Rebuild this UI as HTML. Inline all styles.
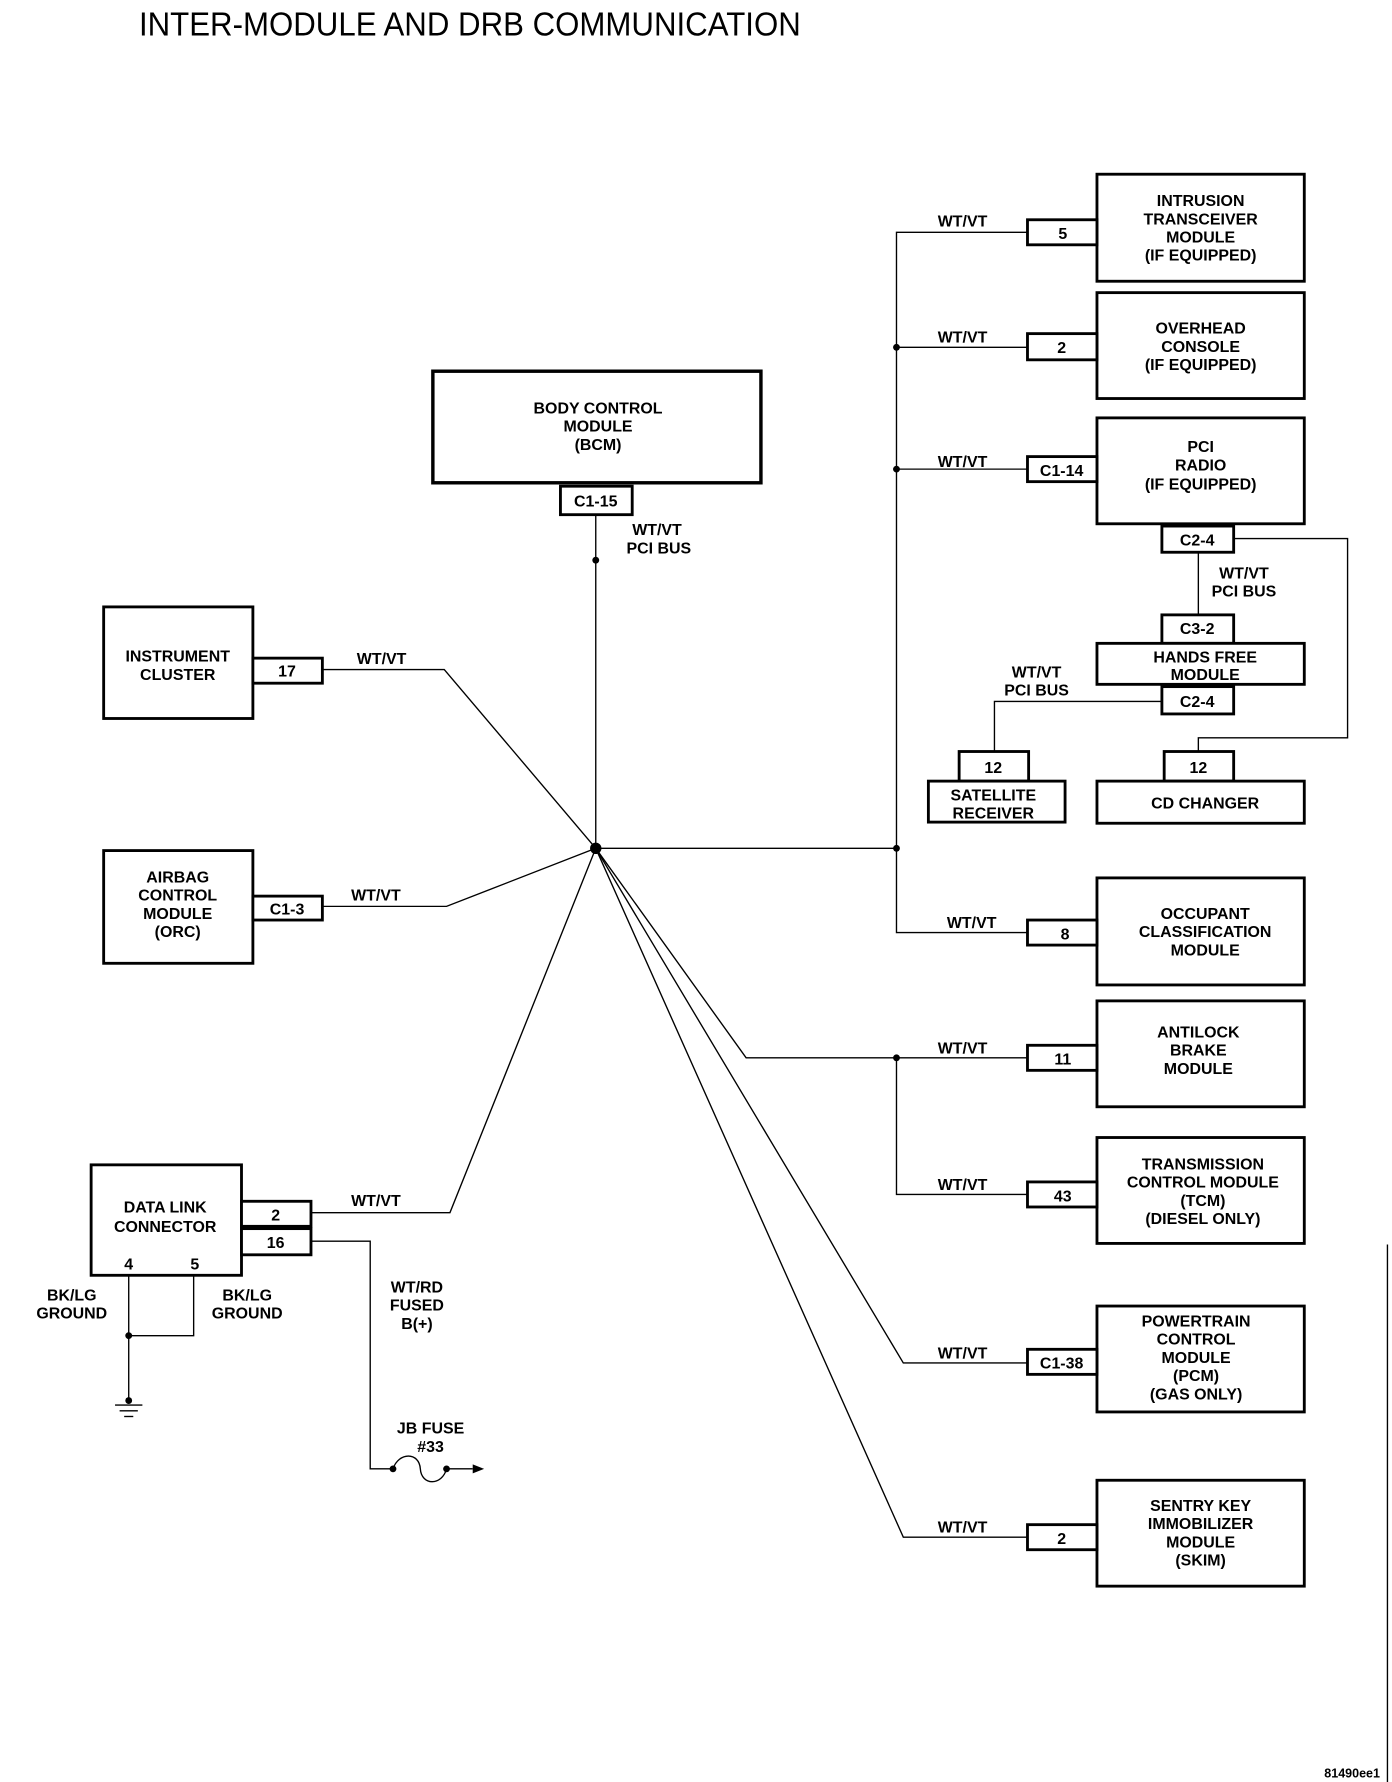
<!DOCTYPE html>
<html><head><meta charset="utf-8"><style>
html,body{margin:0;padding:0;background:#fff;}
svg{display:block;}
text{font-family:"Liberation Sans",sans-serif;font-weight:bold;font-size:14px;fill:#000;text-anchor:middle;}
.l{text-anchor:start;}
</style></head><body>
<svg width="1392" height="1782" viewBox="0 0 1222 1565" preserveAspectRatio="none" xmlns="http://www.w3.org/2000/svg">
<text class="l" x="122" y="31" style="font-weight:normal;font-size:29px" textLength="581" lengthAdjust="spacingAndGlyphs">INTER-MODULE AND DRB COMMUNICATION</text>

<g fill="none" stroke="#000" stroke-width="1.2">
<!-- BCM -->
<line x1="523" y1="452" x2="523" y2="745"/>
<!-- left -->
<polyline points="283,588 390,588 523,745"/>
<polyline points="283,796 392,796 523,745"/>
<polyline points="273,1065 395,1065 523,745"/>
<polyline points="273,1090 325,1090 325,1290 345,1290"/>
<path d="M345,1290 C350,1275 368,1275 369,1290 C370,1305 388,1305 392,1290"/>
<line x1="392" y1="1290" x2="415" y2="1290"/>
<line x1="113" y1="1120" x2="113" y2="1230"/>
<polyline points="170,1120 170,1173 113,1173"/>
<!-- right -->
<line x1="523" y1="745" x2="787" y2="745"/>
<polyline points="902,204 787,204 787,819 902,819"/>
<line x1="787" y1="305" x2="902" y2="305"/>
<line x1="787" y1="412" x2="902" y2="412"/>
<polyline points="523,745 655,929 902,929"/>
<polyline points="787,929 787,1049 902,1049"/>
<polyline points="523,745 793,1197 902,1197"/>
<polyline points="523,745 793,1350 902,1350"/>
<polyline points="1083,473 1183,473 1183,648 1052,648 1052,660"/>
<line x1="1052" y1="485" x2="1052" y2="540"/>
<polyline points="1020,616 873,616 873,660"/>
<line x1="1218" y1="1093" x2="1218" y2="1565"/>
</g>
<polygon points="415,1286 425,1290 415,1294" fill="#000"/>
<g stroke="#000" stroke-width="1.2">
<line x1="101" y1="1234" x2="125" y2="1234"/>
<line x1="105" y1="1239" x2="121" y2="1239"/>
<line x1="109" y1="1244" x2="117" y2="1244"/>
</g>
<g fill="#000">
<circle cx="523" cy="745" r="5"/>
<circle cx="523" cy="492" r="3"/>
<circle cx="787" cy="745" r="3"/>
<circle cx="787" cy="305" r="3"/>
<circle cx="787" cy="412" r="3"/>
<circle cx="787" cy="929" r="3"/>
<circle cx="113" cy="1173" r="3"/>
<circle cx="113" cy="1230" r="3"/>
<circle cx="345" cy="1290" r="3"/>
<circle cx="392" cy="1290" r="3"/>
</g>

<g fill="#fff" stroke="#000" stroke-width="2.5">
<rect x="380" y="326" width="288" height="98" stroke-width="3"/>
<rect x="492" y="427" width="63" height="25"/>
<rect x="91" y="533" width="131" height="98"/>
<rect x="222" y="578" width="61" height="22"/>
<rect x="91" y="747" width="131" height="99"/>
<rect x="222" y="787" width="61" height="21"/>
<rect x="80" y="1023" width="132" height="97"/>
<rect x="212" y="1055" width="61" height="22"/>
<rect x="212" y="1079" width="61" height="23"/>
<rect x="963" y="153" width="182" height="94"/>
<rect x="902" y="193" width="61" height="22"/>
<rect x="963" y="257" width="182" height="93"/>
<rect x="902" y="293" width="61" height="23"/>
<rect x="963" y="367" width="182" height="93"/>
<rect x="902" y="401" width="61" height="22"/>
<rect x="1020" y="462" width="63" height="23"/>
<rect x="1020" y="540" width="63" height="25"/>
<rect x="963" y="565" width="182" height="36"/>
<rect x="1020" y="603" width="63" height="24"/>
<rect x="842" y="660" width="61" height="26"/>
<rect x="815" y="686" width="120" height="36"/>
<rect x="1022" y="660" width="61" height="26"/>
<rect x="963" y="686" width="182" height="37"/>
<rect x="963" y="771" width="182" height="94"/>
<rect x="902" y="808" width="61" height="22"/>
<rect x="963" y="879" width="182" height="93"/>
<rect x="902" y="918" width="61" height="22"/>
<rect x="963" y="999" width="182" height="93"/>
<rect x="902" y="1038" width="61" height="22"/>
<rect x="963" y="1147" width="182" height="93"/>
<rect x="902" y="1185" width="61" height="22"/>
<rect x="963" y="1300" width="182" height="93"/>
<rect x="902" y="1339" width="61" height="22"/>
</g>

<!-- box texts -->
<text x="525" y="363">BODY CONTROL</text><text x="525" y="379">MODULE</text><text x="525" y="395">(BCM)</text>
<text x="523" y="445">C1-15</text>
<text class="l" x="555" y="470">WT/VT</text><text class="l" x="550" y="486">PCI BUS</text>
<text x="156" y="581">INSTRUMENT</text><text x="156" y="597">CLUSTER</text>
<text x="252" y="594">17</text><text x="335" y="583">WT/VT</text>
<text x="156" y="775">AIRBAG</text><text x="156" y="791">CONTROL</text><text x="156" y="807">MODULE</text><text x="156" y="823">(ORC)</text>
<text x="252" y="803">C1-3</text><text x="330" y="791">WT/VT</text>
<text x="145" y="1065">DATA LINK</text><text x="145" y="1082">CONNECTOR</text>
<text x="113" y="1115">4</text><text x="171" y="1115">5</text>
<text x="242" y="1072">2</text><text x="242" y="1096">16</text>
<text x="330" y="1059">WT/VT</text>
<text x="63" y="1142">BK/LG</text><text x="63" y="1158">GROUND</text>
<text x="217" y="1142">BK/LG</text><text x="217" y="1158">GROUND</text>
<text x="366" y="1135">WT/RD</text><text x="366" y="1151">FUSED</text><text x="366" y="1167">B(+)</text>
<text x="378" y="1259">JB FUSE</text><text x="378" y="1275">#33</text>

<text x="1054" y="181">INTRUSION</text><text x="1054" y="197">TRANSCEIVER</text><text x="1054" y="213">MODULE</text><text x="1054" y="229">(IF EQUIPPED)</text>
<text x="933" y="210">5</text><text x="845" y="199">WT/VT</text>
<text x="1054" y="293">OVERHEAD</text><text x="1054" y="309">CONSOLE</text><text x="1054" y="325">(IF EQUIPPED)</text>
<text x="932" y="310">2</text><text x="845" y="301">WT/VT</text>
<text x="1054" y="397">PCI</text><text x="1054" y="413">RADIO</text><text x="1054" y="430">(IF EQUIPPED)</text>
<text x="932" y="418">C1-14</text><text x="845" y="410">WT/VT</text>
<text x="1051" y="479">C2-4</text>
<text x="1092" y="508">WT/VT</text><text x="1092" y="524">PCI BUS</text>
<text x="1051" y="557">C3-2</text>
<text x="1058" y="582">HANDS FREE</text><text x="1058" y="597">MODULE</text>
<text x="1051" y="621">C2-4</text>
<text x="910" y="595">WT/VT</text><text x="910" y="611">PCI BUS</text>
<text x="872" y="679">12</text>
<text x="872" y="703">SATELLITE</text><text x="872" y="719">RECEIVER</text>
<text x="1052" y="679">12</text>
<text x="1058" y="710">CD CHANGER</text>
<text x="1058" y="807">OCCUPANT</text><text x="1058" y="823">CLASSIFICATION</text><text x="1058" y="839">MODULE</text>
<text x="935" y="825">8</text><text x="853" y="815">WT/VT</text>
<text x="1052" y="911">ANTILOCK</text><text x="1052" y="927">BRAKE</text><text x="1052" y="943">MODULE</text>
<text x="933" y="935">11</text><text x="845" y="925">WT/VT</text>
<text x="1056" y="1027">TRANSMISSION</text><text x="1056" y="1043">CONTROL MODULE</text><text x="1056" y="1059">(TCM)</text><text x="1056" y="1075">(DIESEL ONLY)</text>
<text x="933" y="1055">43</text><text x="845" y="1045">WT/VT</text>
<text x="1050" y="1165">POWERTRAIN</text><text x="1050" y="1181">CONTROL</text><text x="1050" y="1197">MODULE</text><text x="1050" y="1213">(PCM)</text><text x="1050" y="1229">(GAS ONLY)</text>
<text x="932" y="1202">C1-38</text><text x="845" y="1193">WT/VT</text>
<text x="1054" y="1327">SENTRY KEY</text><text x="1054" y="1343">IMMOBILIZER</text><text x="1054" y="1359">MODULE</text><text x="1054" y="1375">(SKIM)</text>
<text x="932" y="1356">2</text><text x="845" y="1346">WT/VT</text>
<text x="1187" y="1561" style="font-size:11px">81490ee1</text>
</svg>
</body></html>
